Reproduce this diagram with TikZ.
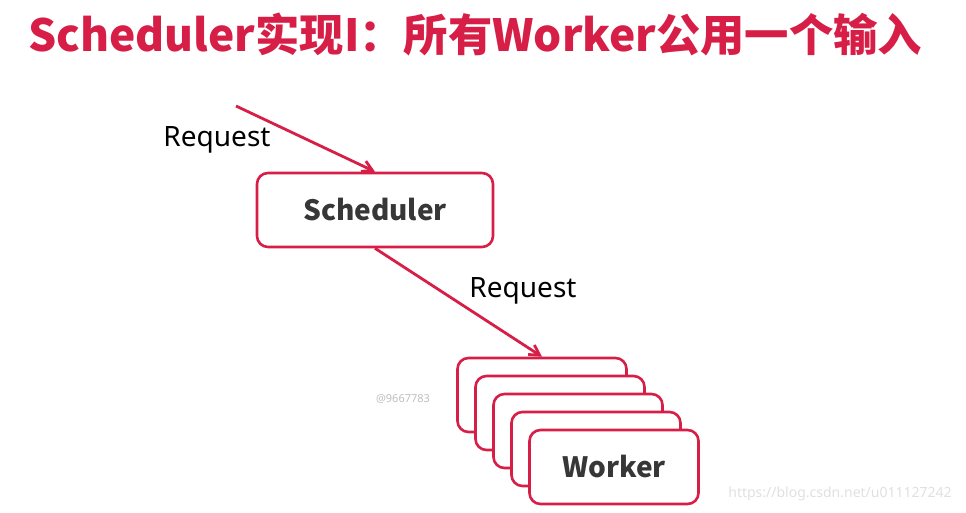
\documentclass[tikz,border=0pt]{standalone}
\usepackage{fontspec}
\setmainfont{Noto Sans}
\newfontfamily\cjk{Noto Sans CJK SC}
\usepackage{xcolor}
\usetikzlibrary{arrows.meta, positioning}

\definecolor{crimson}{RGB}{214,30,70}
\definecolor{boxtext}{RGB}{55,55,55}

\begin{document}
\begin{tikzpicture}[
      x=1pt, y=-1pt,
      box/.style={draw=crimson, line width=2.6pt, rounded corners=11pt, fill=white,
                  align=center, minimum width=236pt, minimum height=74pt,
                  font=\cjk\bfseries\fontsize{28}{30}\selectfont, text=boxtext},
      worker/.style={box, minimum width=169pt, minimum height=74pt},
      label/.style={font=\fontsize{28}{30}\selectfont, text=black},
      arrow/.style={-{Straight Barb[length=3.5mm, width=4mm]}, draw=crimson, line width=2.8pt},
      wmark/.style={text=black!25, font=\bfseries\fontsize{11}{12}\selectfont}
    ]
    \useasboundingbox (0,0) rectangle (966,513);

    \node[text=crimson, font=\cjk\bfseries\fontsize{44.3}{48}\selectfont] (title) at (475,34)
      {Scheduler实现I：所有Worker公用一个输入};

    \node[box] (sched) at (375,210) {Scheduler};
    \coordinate (src) at (236,106);
    \node[label] (req1) at (217,140) {Request};
    \node[label] (req2) at (523,291) {Request};

    \node[worker] (w1) at (542,395) {};
    \node[worker] (w2) at (560,413) {};
    \node[worker] (w3) at (578,431) {};
    \node[worker] (w4) at (596,449) {};
    \node[worker] (w5) at (614,467) {Worker};

    \node[wmark] (wm1) at (403,399) {@9667783};
    \node[text=black!12, font=\fontsize{14}{16}\selectfont] (wm2) at (840,494)
      {https://blog.csdn.net/u011127242};

    \draw[arrow] (src) -- (sched.north);
    \draw[arrow] (sched.south) -- (w1.north);
  \end{tikzpicture}
\end{document}
